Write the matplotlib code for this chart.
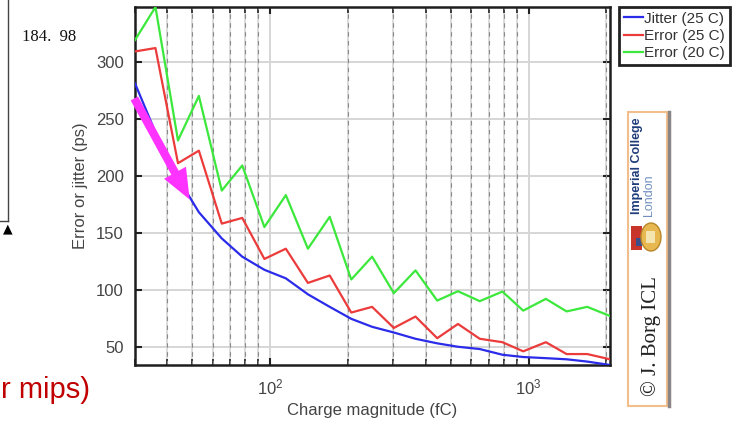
import matplotlib
matplotlib.use("Agg")
import matplotlib.pyplot as plt
from matplotlib.patches import Rectangle, FancyArrowPatch, Ellipse
from matplotlib.lines import Line2D
from matplotlib.ticker import LogLocator, NullFormatter

plt.rcParams['font.family'] = ['Liberation Sans', 'DejaVu Sans']

# charge values (fC)
charge = [30, 36, 44, 53, 65, 78, 95, 115, 140, 170, 206, 248, 301, 365,
          443, 533, 647, 792, 953, 1166, 1403, 1686, 2065]

jitter_25 = [281, 238, 198, 168, 145, 129, 117.5, 110, 96, 85, 74.5, 67.5,
             62.5, 57, 53, 50, 48, 43, 41, 40, 39, 37, 34]
error_25 = [309, 312, 211, 222, 158, 163, 127, 136, 106, 112.5, 80, 85,
            66.5, 76.5, 57.5, 70, 57, 54, 46, 54, 43.6, 43.6, 39]
error_20 = [319, 348, 231, 270, 187, 209, 155, 183, 136, 164, 109, 129,
            97, 117, 90.5, 98.7, 90, 98.4, 81.7, 92, 81, 85, 77]

series_labels = ['Jitter (25 C)', 'Error (25 C)', 'Error (20 C)']
series_colors = ['#2b2bea', '#ec3b3b', '#3be83b']
yticks = [50, 100, 150, 200, 250, 300]

W, H = 746, 422
fig = plt.figure(figsize=(W / 100, H / 100), dpi=100)


def fx(px):
    return px / W


def fy(py):
    return 1 - py / H


ax = fig.add_axes([fx(135), fy(365), fx(610) - fx(135), fy(7) - fy(365)])

for vals, lab, col in zip([jitter_25, error_25, error_20], series_labels, series_colors):
    ax.plot(charge, vals, color=col, lw=1.6, label=lab, zorder=3)

ax.set_xscale('log')
ax.set_xlim(charge[0], charge[-1])
ax.set_ylim(min(jitter_25), max(error_20))
ax.set_yticks(yticks)
ax.xaxis.set_major_locator(LogLocator(base=10))
ax.xaxis.set_minor_locator(LogLocator(base=10, subs=range(2, 10)))
ax.xaxis.set_minor_formatter(NullFormatter())

# grid: solid light major, dashed minor
ax.grid(True, which='major', color='#d6d6d6', lw=1.4, zorder=0)
ax.grid(True, which='minor', axis='x', color='#dadada', lw=1.4, zorder=0)
for xm in ax.xaxis.get_minorticklocs():
    if charge[0] < xm < charge[-1]:
        ax.axvline(xm, color='#8a8a8a', lw=0.8, ls=(0, (4, 4)), zorder=1)
ax.set_axisbelow(True)

ax.tick_params(which='both', direction='in', top=True, right=True,
               colors='#222222', labelcolor='#444444', labelsize=12)
ax.tick_params(which='major', length=5, width=1.5)
ax.tick_params(which='minor', length=4, width=1.2)
ax.tick_params(axis='y', pad=8)
ax.tick_params(axis='x', pad=9)
for s in ax.spines.values():
    s.set_linewidth(1.8)
    s.set_color('#1e1e1e')

ax.set_xlabel('Charge magnitude (fC)', fontsize=12, color='#444444', labelpad=4)
ax.set_ylabel('Error or jitter (ps)', fontsize=12, color='#444444', labelpad=6)

leg = fig.legend(loc='upper left', bbox_to_anchor=(fx(619), fy(7)), fontsize=11,
                 handlelength=1.25, handletextpad=0.1, borderpad=0.3,
                 labelspacing=0.22, fancybox=False, framealpha=1,
                 borderaxespad=0)
leg.get_frame().set_edgecolor('#222222')
leg.get_frame().set_linewidth(2)
for t in leg.get_texts():
    t.set_color('#333333')

# slide leftovers
fig.text(fx(22), fy(37), '184.  98', family='Liberation Serif', fontsize=12,
         va='center', ha='left', color='#111111')
fig.add_artist(Line2D([fx(8), fx(8)], [fy(0), fy(221)], color='#444444', lw=1))
fig.add_artist(Line2D([fx(0), fx(8)], [fy(221), fy(221)], color='#444444', lw=1))
fig.text(fx(8), fy(229), '\u25B2', fontsize=9, ha='center', va='center',
         color='black', family='DejaVu Sans')
fig.text(fx(1), fy(390), 'r mips)', fontsize=21, color='#c00000',
         ha='left', va='center')

arrow = FancyArrowPatch((133 / 100, (H - 96) / 100), (191 / 100, (H - 202) / 100),
                        transform=fig.dpi_scale_trans,
                        arrowstyle='simple,head_length=2.2,head_width=1.8,tail_width=0.6',
                        mutation_scale=10, color='#ff33ff', lw=0, zorder=10)
fig.patches.append(arrow)

# logo strip
fig.add_artist(Rectangle((fx(628), fy(406)), fx(667) - fx(628), fy(112) - fy(406),
                         transform=fig.transFigure, fill=True, facecolor='white',
                         edgecolor='#f2bf8c', lw=1.5))
fig.add_artist(Line2D([fx(669), fx(669)], [fy(406), fy(112)], color='#8c8585', lw=2.5))
fig.text(fx(637), fy(214), 'Imperial College', rotation=90, fontsize=9,
         fontweight='bold', color='#1f3d7a', ha='center', va='bottom')
fig.text(fx(649), fy(216), 'London', rotation=90, fontsize=9,
         color='#6f8fc0', ha='center', va='bottom')
fig.add_artist(Rectangle((fx(631), fy(250)), fx(642) - fx(631), fy(226) - fy(250),
                         transform=fig.transFigure, facecolor='#c8352a', edgecolor='none'))
fig.add_artist(Rectangle((fx(636), fy(246)), fx(642) - fx(636), fy(238) - fy(246),
                         transform=fig.transFigure, facecolor='#3b4f8c', edgecolor='none'))
fig.add_artist(Ellipse((fx(651), fy(237)), fx(20) - fx(0), fy(0) - fy(28),
                       transform=fig.transFigure, facecolor='#e8b850', edgecolor='#b8862a'))
fig.add_artist(Rectangle((fx(646), fy(243)), fx(9) - fx(0), fy(0) - fy(12),
                         transform=fig.transFigure, facecolor='#f4e4b0', edgecolor='none'))
fig.text(fx(651), fy(396), '\u00a9 J. Borg ICL', rotation=90, fontsize=15,
         family='Liberation Serif', color='#222222', ha='center', va='bottom')

fig.savefig('out.png', dpi=100)
